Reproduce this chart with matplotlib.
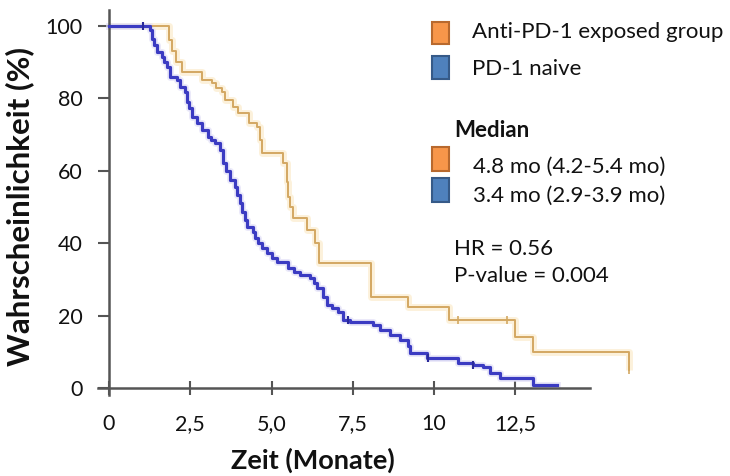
import matplotlib
matplotlib.use("Agg")
import matplotlib.pyplot as plt
from matplotlib.patches import Rectangle
import numpy as np

# Kaplan-Meier estimates: time in months, survival probability in %
exposed_t = [0, 1.85, 1.95, 2.05, 2.25, 2.86, 3.17, 3.30, 3.48, 3.57, 3.82, 3.97,
             4.30, 4.55, 4.65, 4.72, 5.35, 5.48, 5.52, 5.57, 5.66, 6.10, 6.35,
             6.45, 8.05, 9.20, 10.45, 12.50, 13.05, 16.00]
exposed_s = [100, 96.0, 93.0, 90.0, 87.3, 85.1, 84.3, 82.9, 81.8, 79.6, 77.6, 76.0,
             73.2, 72.1, 68.5, 64.9, 62.2, 57.0, 52.8, 50.0, 47.0, 43.6, 40.0,
             34.5, 25.1, 22.4, 18.8, 14.1, 9.9, 5.0]

naive_t = [0, 1.26, 1.32, 1.40, 1.48, 1.63, 1.70, 1.78, 1.88, 2.09, 2.18, 2.34,
           2.40, 2.45, 2.55, 2.71, 2.86, 3.05, 3.15, 3.26, 3.42, 3.51, 3.60, 3.72,
           3.88, 3.95, 4.03, 4.09, 4.18, 4.25, 4.43, 4.50, 4.58, 4.70, 4.86, 5.00,
           5.17, 5.51, 5.70, 5.88, 6.18, 6.30, 6.40, 6.58, 6.71, 6.85, 7.05, 7.20,
           7.42, 8.12, 8.34, 8.65, 8.95, 9.20, 9.26, 9.78, 10.75, 11.20, 11.50,
           11.72, 12.03, 13.05]
naive_s = [100, 98.8, 96.5, 94.8, 92.8, 91.4, 90.0, 88.7, 85.9, 85.0, 83.1, 81.8,
           79.0, 77.3, 74.9, 73.2, 71.3, 69.3, 68.5, 67.7, 65.7, 62.2, 60.0, 57.5,
           55.5, 53.3, 51.1, 48.6, 46.4, 44.5, 43.0, 41.5, 40.1, 38.7, 37.3, 36.0,
           34.8, 33.1, 32.0, 31.2, 30.4, 29.0, 27.6, 25.1, 22.9, 22.0, 21.0, 18.8,
           18.2, 17.4, 16.0, 14.6, 13.3, 11.5, 9.7, 8.3, 6.9, 6.4, 5.8,
           4.1, 2.8, 0.8]
naive_end = 13.78

# censored observations (months)
exposed_censored = [10.74, 12.25, 16.00]
naive_censored = [1.05, 7.35, 9.80, 11.20]

x_ticks = [0, 2.5, 5.0, 7.5, 10, 12.5]
x_tick_labels = ["0", "2,5", "5,0", "7,5", "10", "12,5"]
y_ticks = [0, 20, 40, 60, 80, 100]

group_labels = ["Anti-PD-1 exposed group", "PD-1 naive"]
median_title = "Median"
median_labels = ["4.8 mo (4.2-5.4 mo)", "3.4 mo (2.9-3.9 mo)"]
stats_lines = ["HR = 0.56", "P-value = 0.004"]

orange_line = "#d3a862"
blue_line = "#3b3bc2"
orange_box = ("#f7964a", "#b8692e")
blue_box = ("#4f81bd", "#365a88")
axis_col = "#555555"
text_col = "#111111"

plt.rcParams["font.family"] = ["Lato", "DejaVu Sans"]

W, H = 730, 476
fig = plt.figure(figsize=(W / 100, H / 100), dpi=100)
ax = fig.add_axes([0.1337, 0.1697, 0.7548, 0.8099])
ax.set_xlim(-0.35, 16.6)
ax.set_ylim(-2, 104.5)


def step_value(ts, ss, t):
    idx = np.searchsorted(ts, t, side="right") - 1
    return ss[max(idx, 0)]


# exposed group curve
ex_t = list(exposed_t)
ex_s = list(exposed_s)
ax.plot(ex_t, ex_s, drawstyle="steps-post", color="#fbeccc", lw=5, alpha=0.7,
        solid_capstyle="butt", zorder=2)
ax.plot(ex_t, ex_s, drawstyle="steps-post", color=orange_line, lw=1.4, zorder=4)
ax.plot(exposed_censored, [step_value(exposed_t, exposed_s, t) for t in exposed_censored],
        ls="none", marker="|", ms=6, mew=1.2, color=orange_line, zorder=4)

# naive group curve
nv_t = list(naive_t) + [naive_end]
nv_s = list(naive_s) + [naive_s[-1]]
ax.plot(nv_t, nv_s, drawstyle="steps-post", color="#e2e0f7", lw=5, alpha=0.7,
        zorder=2)
ax.plot(nv_t, nv_s, drawstyle="steps-post", color=blue_line, lw=2.3, zorder=5)
ax.plot(naive_censored, [step_value(naive_t, naive_s, t) for t in naive_censored],
        ls="none", marker="|", ms=6, mew=1.5, color="#2a2a9a", zorder=5)

# axes styling
for side in ("top", "right"):
    ax.spines[side].set_visible(False)
ax.spines["left"].set_position(("data", 0))
ax.spines["bottom"].set_position(("data", 0))
ax.spines["bottom"].set_bounds(-0.35, 14.8)
for side in ("left", "bottom"):
    ax.spines[side].set_color(axis_col)
    ax.spines[side].set_linewidth(1.8)

ax.set_xticks(x_ticks)
ax.set_xticklabels(x_tick_labels)
ax.set_yticks(y_ticks)
ax.tick_params(axis="x", direction="inout", length=10, width=1.5, color=axis_col,
               pad=14, labelsize=15.5, labelcolor=text_col)
ax.tick_params(axis="y", direction="out", length=8, width=1.5, color=axis_col,
               pad=11, labelsize=15.5, labelcolor=text_col)


def fx(px):
    return px / W


def fy(py):
    return 1 - py / H


fig.text(fx(20), fy(206), "Wahrscheinlichkeit (%)", rotation=90, ha="center",
         va="center", fontsize=22.5, fontweight="bold", color=text_col)
fig.text(fx(313), fy(460), "Zeit (Monate)", ha="center", va="center",
         fontsize=19.5, fontweight="bold", color=text_col)


def box(x0, y0, x1, y1, colors):
    fig.patches.append(Rectangle((fx(x0), fy(y1)), fx(x1) - fx(x0), fy(y0) - fy(y1),
                                 transform=fig.transFigure, facecolor=colors[0],
                                 edgecolor=colors[1], lw=1.5))


box(432, 22, 449, 44, orange_box)
box(432, 56, 449, 79, blue_box)
box(432, 147, 449, 171, orange_box)
box(432, 178, 449, 202, blue_box)

fig.text(fx(472), fy(38), group_labels[0], fontsize=16, color=text_col, va="baseline")
fig.text(fx(472), fy(75), group_labels[1], fontsize=16, color=text_col, va="baseline")
fig.text(fx(454), fy(137), median_title, fontsize=16, fontweight="bold",
         color=text_col, va="baseline")
fig.text(fx(473), fy(173), median_labels[0], fontsize=16, color=text_col, va="baseline")
fig.text(fx(473), fy(202), median_labels[1], fontsize=16, color=text_col, va="baseline")
fig.text(fx(454), fy(255), stats_lines[0], fontsize=16, color=text_col, va="baseline")
fig.text(fx(454), fy(282), stats_lines[1], fontsize=16, color=text_col, va="baseline")

fig.savefig("out.png", dpi=100)
